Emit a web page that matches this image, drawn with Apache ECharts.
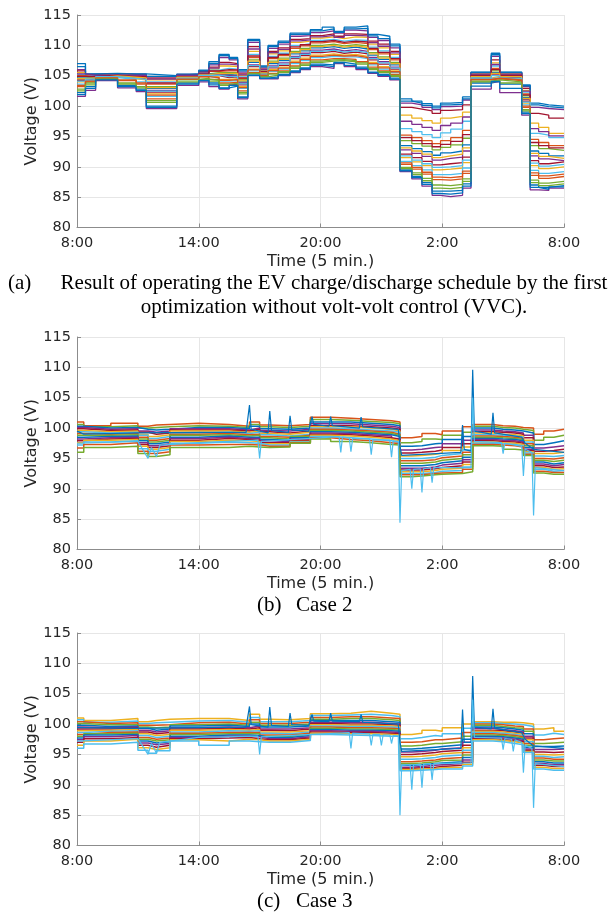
<!DOCTYPE html>
<html><head><meta charset="utf-8">
<script src="https://cdn.jsdelivr.net/npm/echarts@6.0.0/dist/echarts.min.js"></script>
<style>html,body{margin:0;padding:0;background:#fff;}#c{width:613px;height:913px;}</style>
</head><body><div id="c"></div>
<script>
// x index: 5-minute steps from 8:00 (0) to 8:00 next day (288)
const timeTickLabels = ['8:00', '14:00', '20:00', '2:00', '8:00'];
const yMin = 80, yMax = 115, yStep = 5;

// ---------- Panel (a): segment start indices, values of lines per segment ----------
const segStartA = [0,5,11,24,35,41,59,72,78,84,90,95,101,108,113,119,126,132,138,145,152,158,165,172,178,185,191,198,204,210,215,221,228,233,245,250,263,268,273,279];
const voltA = [
[107.0,106.0,105.8,105.5,105.2,105.0,104.8,104.6,104.4,104.2,104.0,103.6,103.2,102.8,102.2,101.6],
[105.3,105.2,105.1,105.0,104.9,104.8,104.7,104.6,104.5,104.4,104.3,104.2,104.0,103.8,103.2,102.6],
[105.4,105.3,105.3,105.2,105.1,105.1,105.0,105.0,104.9,104.9,104.8,104.7,104.6,104.5,104.4,104.2],
[105.3,105.2,105.1,105.0,105.0,104.9,104.8,104.8,104.7,104.6,104.5,104.4,104.2,103.8,103.4,103.0],
[105.3,105.2,105.1,105.0,104.9,104.8,104.8,104.7,104.6,104.5,104.3,104.0,103.6,103.2,102.8,102.4],
[105.0,104.8,104.6,104.3,104.0,103.6,103.2,102.9,102.6,102.3,102.0,101.6,101.2,100.6,100.0,99.6],
[105.3,105.2,105.1,105.0,105.0,104.9,104.8,104.8,104.7,104.6,104.6,104.5,104.4,104.3,103.8,103.4],
[105.9,105.7,105.6,105.5,105.4,105.3,105.3,105.2,105.1,105.1,105.0,104.9,104.8,104.6,104.3,104.0],
[107.3,106.8,106.4,106.1,105.9,105.7,105.5,105.3,105.2,105.0,104.8,104.6,104.4,104.1,103.8,103.2],
[108.5,108.0,107.2,106.6,106.2,105.8,105.5,105.2,105.0,104.7,104.4,104.1,103.8,103.4,103.0,102.8],
[108.0,107.6,107.0,106.5,106.1,105.8,105.5,105.3,105.0,104.8,104.5,104.2,103.9,103.6,103.3,103.5],
[106.0,105.6,105.3,105.0,104.8,104.5,104.3,104.0,103.8,103.5,103.2,102.9,102.5,102.0,101.5,101.2],
[111.0,110.5,109.8,109.0,108.5,108.0,107.6,107.2,106.8,106.5,106.1,105.8,105.5,105.3,105.1,105.0],
[106.6,106.3,106.1,105.9,105.7,105.6,105.5,105.4,105.3,105.2,105.1,105.0,104.9,104.8,104.6,104.5],
[110.0,109.5,109.0,108.6,108.2,107.8,107.4,107.0,106.6,106.3,106.0,105.7,105.4,105.1,104.8,104.5],
[110.7,110.2,109.6,109.1,108.7,108.3,107.9,107.5,107.1,106.7,106.4,106.1,105.8,105.5,105.2,105.0],
[112.0,111.5,111.0,110.5,110.0,109.5,109.0,108.6,108.2,107.8,107.4,107.0,106.6,106.2,105.8,105.5],
[112.0,111.6,111.1,110.7,110.3,109.9,109.5,109.1,108.7,108.3,107.9,107.5,107.1,106.7,106.3,106.0],
[112.6,112.1,111.6,111.2,110.8,110.4,110.0,109.6,109.2,108.8,108.4,108.0,107.6,107.2,106.9,106.5],
[113.0,112.4,111.9,111.4,111.0,110.6,110.2,109.8,109.4,109.0,108.6,108.2,107.8,107.4,106.8,106.2],
[112.3,112.0,111.5,111.1,110.7,110.3,109.9,109.5,109.1,108.7,108.4,108.1,107.8,107.5,107.2,107.0],
[113.0,112.5,111.9,111.4,110.9,110.5,110.1,109.7,109.3,108.9,108.5,108.1,107.7,107.3,106.9,106.5],
[113.2,112.4,111.8,111.3,110.8,110.3,109.9,109.4,109.0,108.6,108.2,107.8,107.3,106.9,106.4,106.0],
[111.8,111.3,110.7,110.2,109.7,109.3,108.8,108.4,108.0,107.6,107.2,106.8,106.4,106.0,105.6,105.4],
[111.5,110.8,110.2,109.6,109.1,108.6,108.1,107.7,107.3,106.9,106.5,106.1,105.8,105.5,105.2,104.9],
[110.2,109.6,109.0,108.5,108.0,107.6,107.2,106.8,106.4,106.1,105.8,105.5,105.2,104.9,104.6,104.3],
[101.2,100.5,99.8,98.5,96.3,95.2,94.3,93.5,92.8,92.1,91.5,90.9,90.4,89.9,89.5,89.2],
[100.8,100.2,99.5,98.0,95.8,94.8,93.8,93.0,92.2,91.5,90.8,90.2,89.6,89.0,88.4,88.0],
[100.4,99.8,99.2,97.6,95.3,94.3,93.4,92.5,91.7,90.9,90.2,89.5,88.8,88.1,87.4,86.8],
[100.0,99.4,98.8,97.2,94.8,93.8,92.8,91.9,91.1,90.3,89.5,88.7,87.9,87.0,86.0,85.3],
[100.5,99.9,99.3,98.0,95.6,94.3,93.2,92.3,91.4,90.5,89.6,88.7,87.8,86.9,86.0,85.1],
[100.6,100.0,99.4,98.3,96.2,94.8,93.6,92.6,91.6,90.7,89.8,88.9,88.0,87.1,86.1,85.3],
[101.5,101.0,100.2,99.0,97.5,96.0,94.7,93.6,92.6,91.6,90.7,89.8,88.9,88.0,87.2,86.5],
[105.6,105.5,105.4,105.3,105.2,105.1,105.0,104.9,104.8,104.7,104.6,104.5,104.3,104.1,103.8,102.8],
[108.7,108.2,107.6,107.1,106.6,106.2,105.8,105.5,105.3,105.1,104.9,104.7,104.5,104.3,104.1,104.0],
[105.6,105.5,105.4,105.3,105.2,105.1,105.0,104.9,104.8,104.7,104.5,104.4,104.2,104.0,103.6,102.2],
[103.5,103.2,102.9,102.6,102.3,102.0,101.7,101.4,101.1,100.8,100.5,100.2,99.8,99.4,99.0,98.5],
[100.5,99.8,98.8,97.2,95.5,94.5,93.5,92.6,91.8,91.0,90.2,89.4,88.6,87.8,87.0,86.2],
[100.2,99.6,98.5,96.5,95.2,94.0,93.0,92.2,91.3,90.5,89.7,88.9,88.1,87.3,86.6,86.1],
[100.0,99.4,98.0,95.5,94.8,93.5,92.7,91.8,91.0,90.8,90.0,89.2,88.4,87.6,86.9,86.5]
];
// further nodes of panel (a), same segments
const voltAMore = [
[106.5,105.3,104.9,104.5,104.1,103.4,102.5,101.9],
[105.25,105.05,104.85,104.65,104.45,104.1,103.5,102.9],
[105.35,105.15,105.05,104.95,104.85,104.65,104.45,104.3],
[105.25,105.05,104.85,104.75,104.55,104.3,103.6,103.2],
[105.25,105.05,104.85,104.65,104.4,103.8,103.0,102.6],
[104.9,104.45,103.8,103.05,102.45,101.8,100.9,99.8],
[105.25,105.05,104.85,104.75,104.6,104.45,104.0,103.6],
[105.8,105.45,105.25,105.15,105.05,104.85,104.45,104.2],
[107.0,106.25,105.8,105.4,105.1,104.7,104.25,103.5],
[108.3,106.9,106.0,105.35,104.85,104.25,103.6,102.9],
[107.8,106.8,105.95,105.4,104.9,104.35,103.75,103.4],
[105.8,105.15,104.65,104.15,103.65,103.05,102.25,101.4],
[110.8,109.4,108.25,107.4,106.65,105.95,105.4,105.05],
[106.45,106.0,105.65,105.45,105.25,105.05,104.85,104.55],
[109.8,108.8,108.0,107.2,106.45,105.85,105.25,104.65],
[110.5,109.35,108.5,107.7,106.9,106.25,105.65,105.1],
[111.8,110.75,109.75,108.8,108.0,107.2,106.4,105.65],
[111.8,110.9,110.1,109.3,108.5,107.7,106.9,106.15],
[112.4,111.4,110.6,109.8,109.0,108.2,107.4,106.7],
[112.7,111.65,110.8,110.0,109.2,108.4,107.6,106.5],
[112.15,111.3,110.5,109.7,108.9,108.25,107.65,107.1],
[112.7,111.65,110.7,109.9,109.1,108.3,107.5,106.7],
[112.8,111.55,110.55,109.65,108.8,108.0,107.1,106.2],
[111.55,110.45,109.5,108.6,107.8,107.0,106.2,105.5],
[111.1,109.85,108.85,107.9,107.1,106.3,105.65,105.05],
[109.9,108.75,107.8,107.0,106.25,105.65,105.05,104.45],
[100.8,97.5,94.8,93.1,91.8,90.65,89.7,89.35],
[100.5,97.0,94.3,92.6,91.1,89.9,88.7,88.2],
[100.1,96.5,93.8,92.1,90.5,89.1,87.7,87.1],
[99.7,96.0,93.3,91.5,89.9,88.3,86.5,85.6],
[100.2,96.8,93.7,91.8,90.0,88.2,86.4,85.5],
[100.3,97.2,94.2,92.1,90.2,88.4,86.6,85.7],
[101.2,98.2,95.3,93.1,91.1,89.3,87.6,86.8],
[105.55,105.25,105.05,104.85,104.65,104.4,104.0,103.3],
[108.45,106.85,106.0,105.4,105.0,104.6,104.2,104.05],
[105.55,105.25,105.05,104.85,104.6,104.3,103.8,102.9],
[103.35,102.45,101.85,101.25,100.65,100.0,99.2,98.75],
[100.2,96.3,94.0,92.2,90.6,89.0,87.4,86.6],
[99.9,95.8,93.5,91.7,90.1,88.5,86.9,86.3],
[99.7,95.1,93.1,91.4,90.4,88.8,87.2,86.7]
];

// ---------- Panel (b) ----------
const segStartB = [0,4,20,36,42,47,55,72,90,102,108,114,126,138,150,162,174,186,191,198,204,212,216,228,234,246,252,259,264,270,276,282];
const voltB = [
[101.0,100.6,100.3,100.1,99.9,99.6,99.4,99.1,98.8,98.5,98.2,97.9,97.6,97.2,96.7,96.0],
[100.4,100.2,100.0,99.8,99.6,99.4,99.2,99.0,98.8,98.6,98.4,98.2,98.0,97.7,97.3,96.8],
[100.8,100.4,100.1,99.9,99.7,99.5,99.3,99.1,98.9,98.7,98.5,98.3,98.1,97.9,97.6,97.0],
[100.3,100.0,99.8,99.5,99.3,99.0,98.8,98.5,98.2,97.9,97.6,97.3,97.0,96.6,96.2,95.8],
[100.5,100.1,99.7,99.3,99.0,98.6,98.3,98.0,97.7,97.4,97.1,96.8,96.5,96.2,95.8,95.3],
[100.6,100.2,99.8,99.5,99.2,98.9,98.6,98.3,98.0,97.7,97.4,97.1,96.8,96.5,96.1,95.6],
[100.8,100.4,100.1,99.9,99.7,99.5,99.2,99.0,98.8,98.5,98.3,98.0,97.8,97.5,97.2,96.8],
[100.6,100.3,100.1,99.9,99.7,99.5,99.3,99.1,98.9,98.7,98.5,98.3,98.0,97.7,97.3,96.8],
[100.3,100.1,99.9,99.7,99.5,99.3,99.1,98.9,98.7,98.5,98.3,98.1,97.9,97.6,97.3,97.0],
[101.0,100.6,100.3,100.0,99.8,99.5,99.3,99.0,98.8,98.5,98.3,98.0,97.8,97.5,97.2,96.9],
[100.5,100.2,99.9,99.6,99.4,99.1,98.9,98.6,98.4,98.1,97.9,97.6,97.4,97.2,97.0,96.8],
[100.4,100.1,99.8,99.5,99.2,99.0,98.7,98.5,98.2,98.0,97.8,97.6,97.4,97.2,97.0,96.9],
[100.6,100.3,100.0,99.8,99.5,99.3,99.0,98.8,98.6,98.4,98.2,98.0,97.8,97.7,97.6,97.5],
[101.8,101.4,101.0,100.7,100.4,100.2,100.0,99.8,99.6,99.4,99.2,99.0,98.8,98.6,98.4,98.2],
[101.6,101.3,101.0,100.7,100.4,100.2,99.9,99.7,99.5,99.3,99.1,98.9,98.7,98.4,98.1,97.8],
[101.4,101.1,100.8,100.5,100.2,100.0,99.7,99.5,99.3,99.1,98.9,98.7,98.5,98.2,97.9,97.6],
[101.2,100.9,100.6,100.3,100.0,99.8,99.5,99.3,99.1,98.9,98.7,98.4,98.2,97.9,97.6,97.3],
[101.0,100.7,100.4,100.1,99.8,99.5,99.3,99.0,98.8,98.6,98.3,98.1,97.9,97.6,97.4,97.2],
[98.4,97.6,97.0,96.4,95.9,95.4,95.0,94.6,94.2,93.8,93.4,93.1,92.8,92.5,92.3,92.0],
[98.6,97.8,97.1,96.5,96.0,95.5,95.0,94.6,94.2,93.8,93.4,93.1,92.8,92.5,92.3,92.1],
[99.1,98.2,97.4,96.8,96.2,95.7,95.2,94.8,94.4,94.0,93.6,93.3,93.0,92.7,92.5,92.3],
[98.9,98.1,97.5,96.9,96.4,95.9,95.5,95.1,94.7,94.3,93.9,93.5,93.2,92.9,92.6,92.4],
[99.5,98.8,98.1,97.4,96.8,96.3,95.8,95.4,95.0,94.6,94.2,93.8,93.4,93.0,92.7,92.5],
[100.2,99.3,98.6,98.0,97.4,96.9,96.4,96.0,95.6,95.2,94.8,94.4,94.0,93.6,93.2,92.8],
[100.6,100.3,100.0,99.7,99.4,99.2,98.9,98.7,98.5,98.3,98.1,97.9,97.7,97.5,97.3,97.1],
[100.4,100.1,99.8,99.5,99.3,99.0,98.8,98.6,98.4,98.2,98.0,97.8,97.6,97.4,97.2,97.0],
[100.3,100.0,99.7,99.4,99.2,98.9,98.7,98.5,98.3,98.1,97.9,97.7,97.5,97.3,97.1,96.5],
[100.1,99.8,99.5,99.2,99.0,98.7,98.5,98.3,98.1,97.9,97.7,97.5,97.3,97.1,96.9,96.4],
[100.0,99.6,99.2,98.8,98.4,98.0,97.7,97.4,97.1,96.8,96.5,96.3,96.1,95.9,95.7,95.5],
[99.0,98.0,97.3,96.7,96.2,95.8,95.4,95.0,94.7,94.4,94.1,93.8,93.5,93.2,92.9,92.6],
[99.5,98.5,97.6,96.9,96.3,95.8,95.3,94.9,94.5,94.1,93.8,93.5,93.2,92.9,92.7,92.4],
[99.8,98.8,97.9,97.1,96.5,96.0,95.5,95.1,94.7,94.3,94.0,93.6,93.3,93.0,92.7,92.4]
];
// lines with transients (pairs: time index, voltage)
const spikeB1 = [[0,99.5],[4,99.0],[36,99.2],[72,99.3],[100,99.3],[102,103.8],[103,99.8],[113,99.2],[114,102.8],[115,99.6],[125,99.3],[126,102.0],[127,99.7],[137,99.5],[139,101.9],[140,100.6],[149,100.3],[150,101.9],[151,100.4],[167,100.0],[168,101.8],[169,100.2],[190,99.8],[191,97.0],[192,95.5],[227,96.0],[228,100.5],[229,96.5],[233,96.2],[234,109.6],[235,99.5],[245,99.0],[246,102.5],[247,99.2],[263,98.5],[265,97.5],[270,96.5],[288,96.0]];
const spikeB2 = [[0,97.5],[36,97.8],[42,95.0],[44,96.8],[47,95.3],[49,97.2],[72,97.6],[107,98.0],[108,95.0],[109,97.8],[155,98.6],[156,96.0],[157,98.5],[161,98.4],[162,96.1],[163,98.3],[173,98.2],[174,95.6],[175,98.1],[185,98.0],[186,95.2],[187,97.9],[190,97.8],[191,84.4],[192,93.0],[197,93.2],[198,90.0],[199,93.2],[203,93.3],[204,89.4],[205,93.3],[209,93.5],[210,91.0],[211,93.5],[233,93.5],[234,105.0],[235,97.8],[251,97.6],[252,95.8],[253,97.5],[263,97.0],[264,92.1],[265,96.5],[269,96.0],[270,85.6],[271,93.5],[288,93.0]];

// ---------- Panel (c) ----------
const segStartC = [0,4,20,36,42,47,55,72,90,102,108,114,126,138,150,162,174,186,191,198,204,212,216,228,234,246,252,259,264,270,276,282];
const voltC = [
[101.0,100.7,100.4,100.1,99.8,99.5,99.2,98.9,98.6,98.3,98.0,97.7,97.4,97.0,96.5,96.0],
[100.6,100.3,100.1,99.9,99.6,99.4,99.2,99.0,98.8,98.6,98.4,98.2,97.9,97.6,97.2,96.7],
[100.9,100.5,100.2,99.9,99.7,99.5,99.3,99.1,98.9,98.7,98.5,98.3,98.1,97.8,97.5,97.0],
[100.4,100.1,99.8,99.5,99.3,99.0,98.7,98.4,98.1,97.8,97.5,97.2,96.9,96.5,96.1,95.7],
[100.6,100.2,99.8,99.4,99.0,98.7,98.4,98.1,97.8,97.5,97.2,96.9,96.6,96.2,95.8,95.2],
[100.8,100.3,99.9,99.5,99.2,98.9,98.6,98.3,98.0,97.7,97.4,97.1,96.8,96.5,96.1,95.6],
[100.9,100.5,100.2,99.9,99.7,99.4,99.2,99.0,98.7,98.5,98.3,98.0,97.8,97.6,97.4,97.2],
[100.9,100.6,100.3,100.0,99.8,99.5,99.3,99.1,98.9,98.6,98.4,98.2,98.0,97.7,97.2,96.5],
[100.6,100.3,100.0,99.8,99.6,99.4,99.2,99.0,98.8,98.6,98.4,98.2,98.0,97.8,97.5,97.2],
[101.6,101.1,100.7,100.3,100.0,99.7,99.4,99.1,98.9,98.6,98.4,98.1,97.9,97.6,97.4,97.1],
[100.8,100.4,100.1,99.8,99.5,99.2,99.0,98.7,98.5,98.2,98.0,97.8,97.6,97.4,97.2,97.0],
[100.7,100.4,100.1,99.8,99.5,99.2,98.9,98.7,98.4,98.2,98.0,97.8,97.6,97.4,97.2,97.0],
[100.9,100.6,100.3,100.0,99.7,99.4,99.2,98.9,98.7,98.5,98.3,98.1,97.9,97.7,97.5,97.3],
[101.7,101.4,101.1,100.8,100.6,100.3,100.1,99.9,99.7,99.5,99.3,99.1,98.9,98.7,98.5,98.3],
[101.8,101.5,101.2,100.9,100.6,100.3,100.0,99.8,99.6,99.4,99.2,99.0,98.8,98.6,98.4,98.2],
[102.1,101.6,101.2,100.9,100.6,100.3,100.0,99.8,99.6,99.4,99.2,99.0,98.8,98.6,98.4,98.1],
[101.8,101.4,101.0,100.7,100.4,100.1,99.9,99.7,99.5,99.3,99.1,98.9,98.7,98.5,98.3,98.0],
[101.6,101.2,100.9,100.6,100.3,100.0,99.8,99.6,99.4,99.2,99.0,98.8,98.6,98.4,98.2,98.0],
[98.3,97.6,97.0,96.4,95.9,95.4,95.0,94.6,94.2,93.8,93.5,93.2,92.9,92.7,92.5,92.3],
[98.5,97.8,97.1,96.5,96.0,95.5,95.1,94.7,94.3,93.9,93.6,93.3,93.0,92.8,92.6,92.4],
[99.0,98.1,97.4,96.8,96.2,95.7,95.3,94.9,94.5,94.1,93.8,93.5,93.2,92.9,92.7,92.5],
[98.8,98.0,97.4,96.8,96.3,95.9,95.5,95.1,94.7,94.3,94.0,93.6,93.3,93.0,92.8,92.6],
[99.4,98.4,97.7,97.1,96.6,96.1,95.7,95.3,94.9,94.5,94.1,93.8,93.5,93.2,92.9,92.6],
[100.0,99.3,98.6,98.0,97.5,97.0,96.5,96.1,95.7,95.3,94.9,94.5,94.1,93.7,93.4,93.1],
[100.4,100.2,100.0,99.8,99.5,99.3,99.0,98.8,98.6,98.4,98.2,98.0,97.8,97.6,97.4,97.2],
[100.3,100.1,99.9,99.6,99.4,99.1,98.9,98.7,98.5,98.3,98.1,97.9,97.7,97.5,97.3,97.1],
[100.3,100.0,99.7,99.4,99.2,98.9,98.7,98.5,98.3,98.1,97.9,97.7,97.5,97.3,97.1,96.8],
[100.2,99.9,99.6,99.3,99.0,98.7,98.5,98.3,98.1,97.9,97.7,97.5,97.3,97.1,96.9,96.6],
[100.0,99.6,99.2,98.8,98.4,98.0,97.7,97.4,97.1,96.8,96.5,96.2,95.9,95.7,95.5,95.3],
[99.2,98.2,97.4,96.8,96.3,95.8,95.4,95.0,94.7,94.4,94.1,93.8,93.5,93.2,92.9,92.6],
[99.4,98.5,97.6,96.9,96.3,95.8,95.3,94.9,94.5,94.2,93.9,93.6,93.3,93.0,92.7,92.4],
[98.8,98.3,97.7,97.0,96.4,95.9,95.4,95.0,94.6,94.2,93.9,93.6,93.3,93.0,92.7,92.4]
];
const spikeC1 = [[0,99.4],[36,99.3],[72,99.4],[100,99.5],[102,102.9],[103,99.9],[113,99.5],[114,102.8],[115,99.8],[125,99.6],[126,101.8],[127,99.9],[137,99.8],[139,101.6],[140,100.5],[149,100.4],[150,101.8],[151,100.5],[167,100.4],[168,101.6],[169,100.3],[190,100.0],[191,97.0],[192,95.5],[227,96.0],[228,102.4],[229,97.0],[233,97.0],[234,107.9],[235,99.5],[245,99.2],[246,102.5],[247,99.3],[263,98.6],[265,97.5],[270,96.4],[288,96.0]];
const spikeC2 = [[0,97.2],[36,97.6],[42,95.0],[44,96.8],[47,95.2],[49,97.0],[72,97.8],[107,98.0],[108,95.0],[109,97.9],[161,98.6],[162,96.0],[163,98.5],[173,98.4],[174,96.5],[175,98.3],[179,98.3],[180,96.5],[181,98.2],[185,98.2],[186,96.8],[187,98.1],[190,98.0],[191,85.0],[192,93.2],[197,93.3],[198,89.2],[199,93.3],[203,93.4],[204,89.5],[205,93.4],[209,93.5],[210,90.8],[211,93.5],[233,93.6],[234,104.0],[235,97.8],[251,97.7],[252,95.8],[253,97.6],[257,97.5],[258,95.5],[259,97.4],[263,97.0],[264,92.0],[265,96.5],[269,96.0],[270,86.2],[271,93.5],[288,93.0]];

const matlabColors = ['#0072BD','#D95319','#EDB120','#7E2F8E','#77AC30','#4DBEEE','#A2142F'];
const END_X = 288;

const panels = [
  {top: 15, seg: segStartA, tables: [voltA, voltAMore], spikes: [], lw: 1.3},
  {top: 337, seg: segStartB, tables: [voltB], spikes: [spikeB1, spikeB2], lw: 1.5},
  {top: 633, seg: segStartC, tables: [voltC], spikes: [spikeC1, spikeC2], lw: 1.5}
];

const axisColor = '#8c8c8c';
const textColor = '#262626';
const sans = 'DejaVu Sans';
const grids = [], xAxes = [], yAxes = [], series = [];
panels.forEach((p, gi) => {
  grids.push({left: 77, width: 487, top: p.top, height: 212.5});
  xAxes.push({
    gridIndex: gi, type: 'value', min: 0, max: END_X, interval: 72,
    axisLine: {lineStyle: {color: axisColor, width: 1}},
    axisTick: {inside: true, length: 4, lineStyle: {color: axisColor}},
    axisLabel: {formatter: v => timeTickLabels[Math.round(v / 72)], fontFamily: sans, fontSize: 14.5, color: textColor, margin: 8},
    splitLine: {show: true, lineStyle: {color: '#e6e6e6', width: 1}},
    name: 'Time (5 min.)', nameLocation: 'middle', nameGap: 26, nameMoveOverlap: false,
    nameTextStyle: {fontFamily: sans, fontSize: 16, color: textColor}
  });
  yAxes.push({
    gridIndex: gi, type: 'value', min: yMin, max: yMax, interval: yStep,
    axisLine: {show: true, lineStyle: {color: axisColor, width: 1}},
    axisTick: {show: true, inside: true, length: 4, lineStyle: {color: axisColor}},
    axisLabel: {fontFamily: sans, fontSize: 14.5, color: textColor, margin: 6},
    splitLine: {show: true, lineStyle: {color: '#e6e6e6', width: 1}},
    name: 'Voltage (V)', nameLocation: 'middle', nameGap: 37, nameMoveOverlap: false,
    nameTextStyle: {fontFamily: sans, fontSize: 16, color: textColor}
  });
  let c = gi;
  p.tables.forEach(tbl => {
    const nLines = tbl[0].length;
    for (let k = 0; k < nLines; k++) {
      const data = p.seg.map((x, i) => [x, tbl[i][k]]);
      data.push([END_X, tbl[tbl.length - 1][k]]);
      series.push({
        type: 'line', xAxisIndex: gi, yAxisIndex: gi, data, step: 'end',
        showSymbol: false, symbol: 'none', silent: true, animation: false,
        lineStyle: {width: p.lw, color: matlabColors[c % 7]}
      });
      c += 3;
    }
    c += 1;
  });
  p.spikes.forEach((d, j) => {
    series.push({
      type: 'line', xAxisIndex: gi, yAxisIndex: gi, data: d,
      showSymbol: false, symbol: 'none', silent: true, animation: false,
      lineStyle: {width: 1.2, color: j === 0 ? '#0072BD' : '#4DBEEE'}
    });
  });
});

const serif = 'Liberation Serif';
const cap = (text, x, y, align) => ({type: 'text', x, y, silent: true,
  style: {text, fontFamily: serif, fontSize: 21, fill: '#000', align: align || 'left', verticalAlign: 'middle'}});

const chart = echarts.init(document.getElementById('c'), null, {renderer: 'canvas'});
chart.setOption({
  animation: false,
  backgroundColor: '#fff',
  grid: grids, xAxis: xAxes, yAxis: yAxes, series,
  graphic: [
    cap('(a)', 8, 283),
    cap('Result of operating the EV charge/discharge schedule by the first', 334, 283, 'center'),
    cap('optimization without volt-volt control (VVC).', 334, 307, 'center'),
    cap('(b)', 257, 605),
    cap('Case 2', 296, 605),
    cap('(c)', 257, 901),
    cap('Case 3', 296, 901)
  ]
});
</script>
</body></html>
